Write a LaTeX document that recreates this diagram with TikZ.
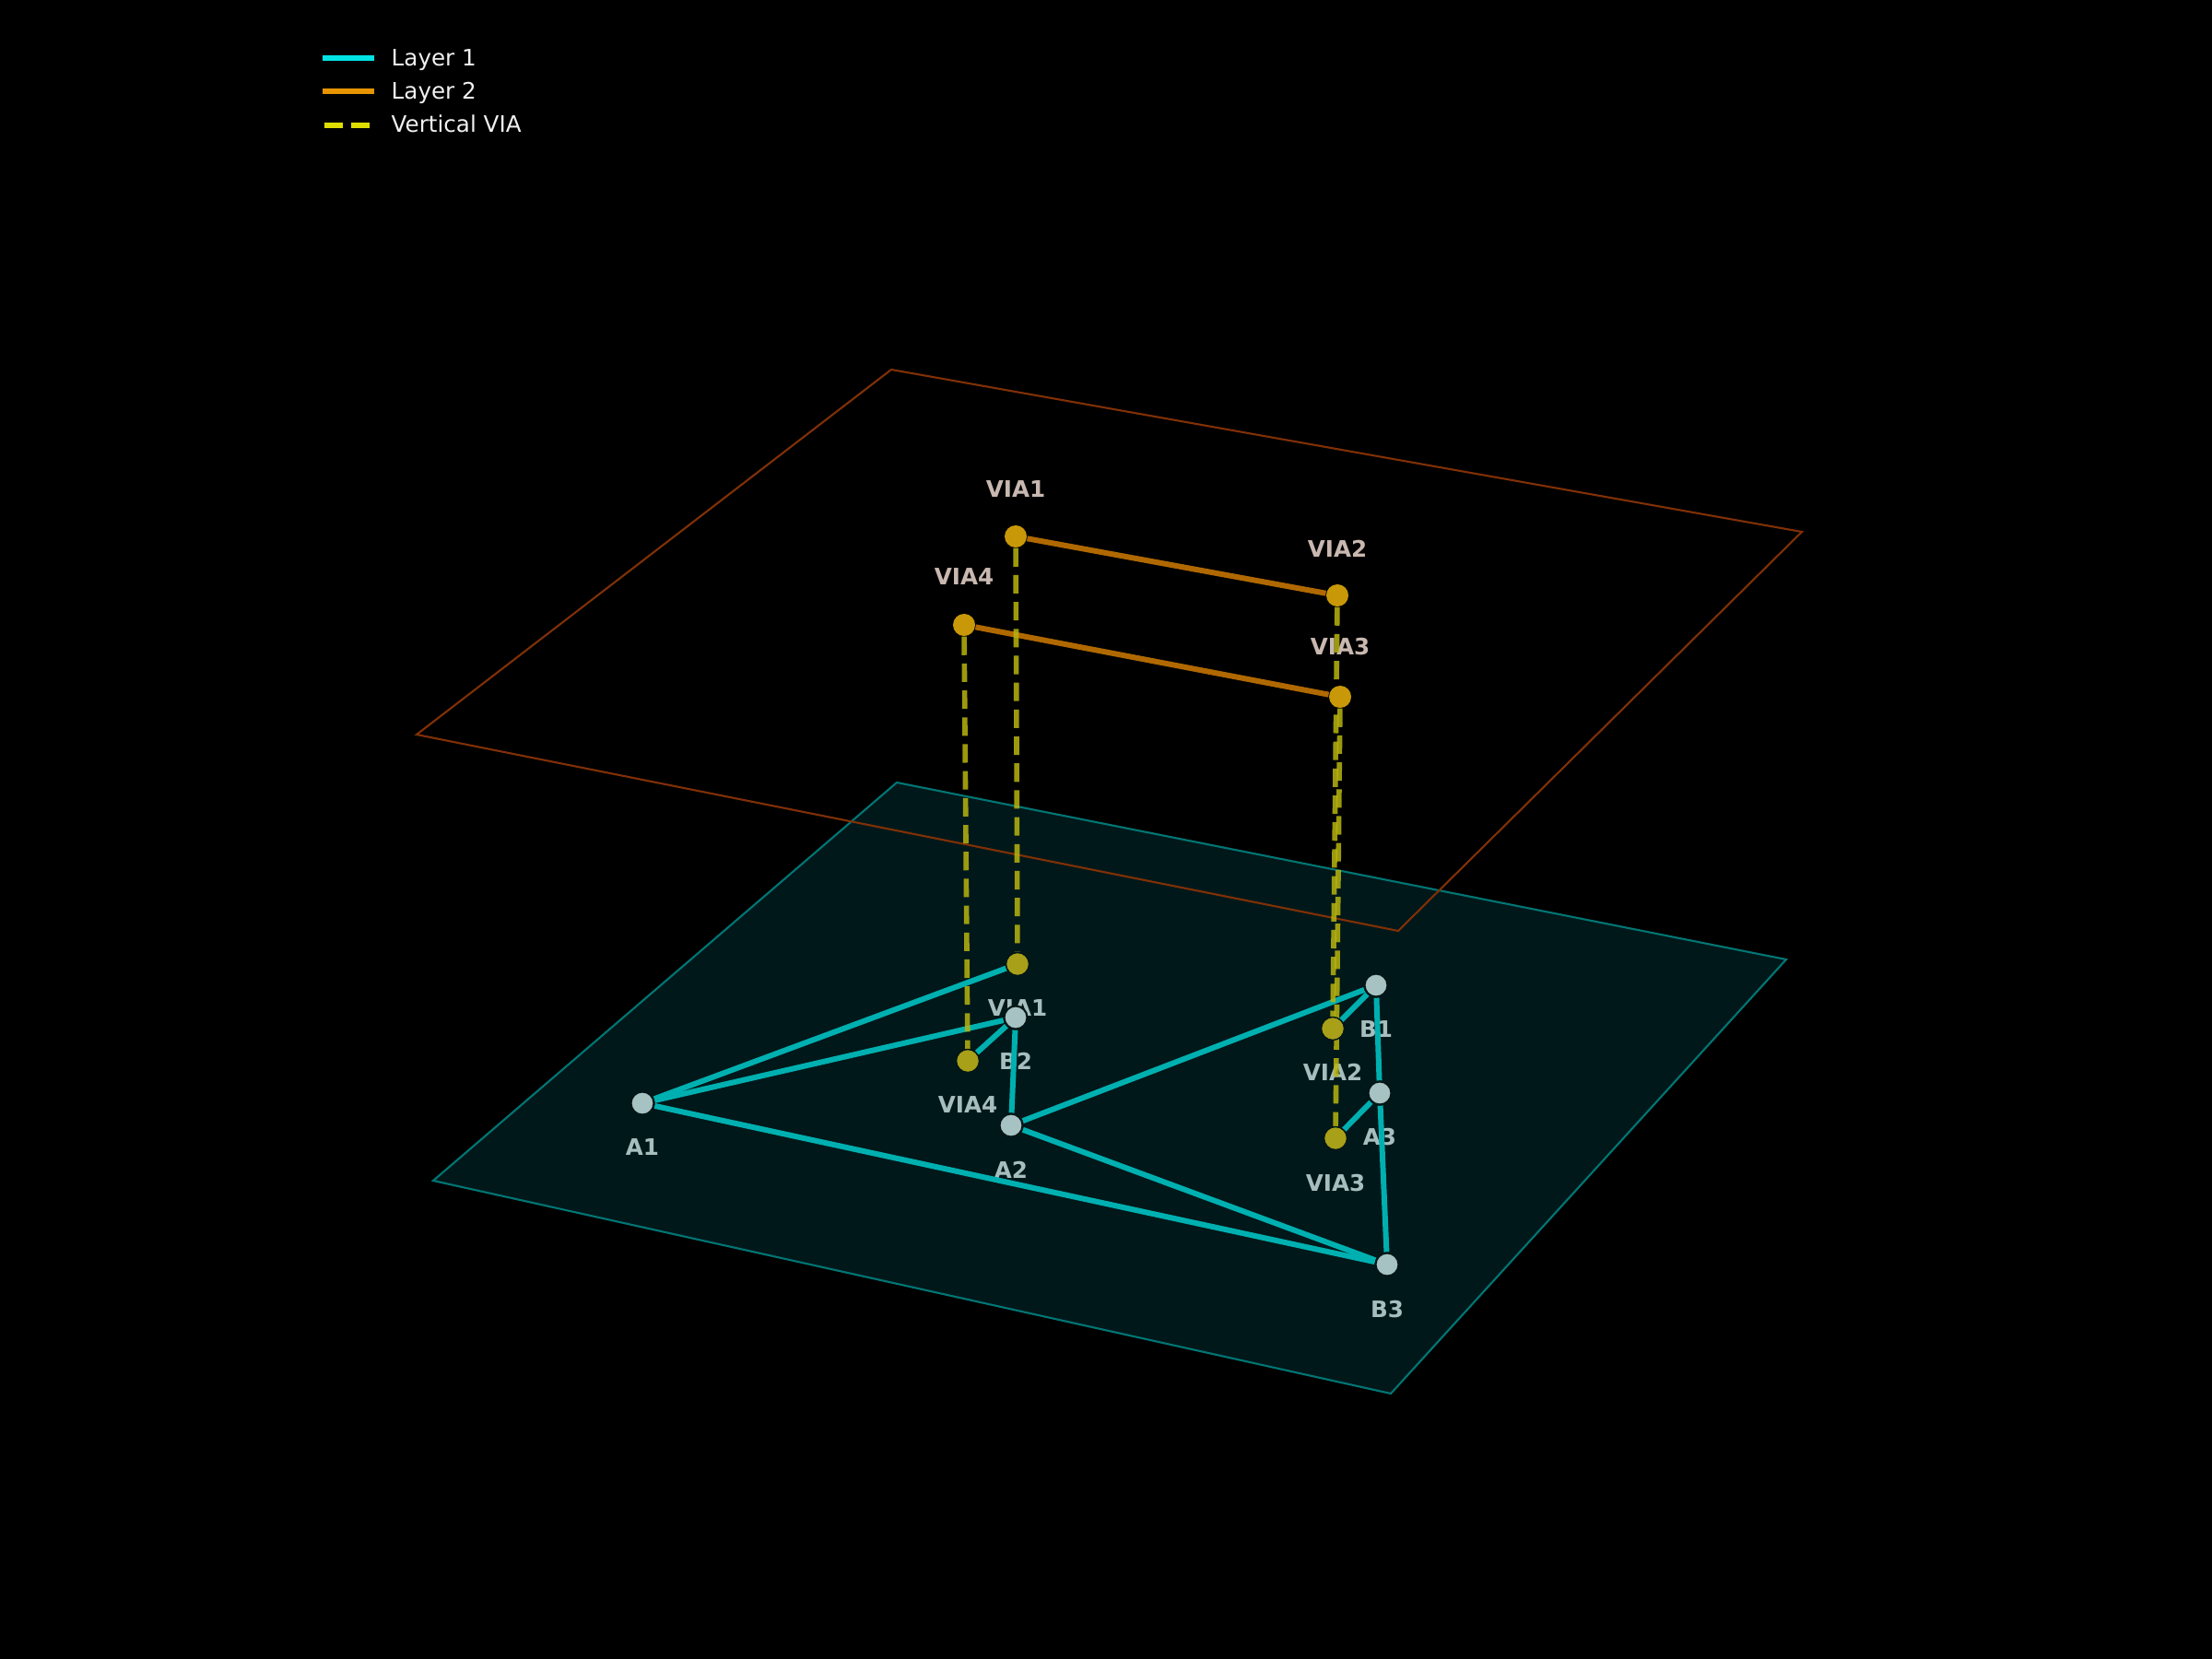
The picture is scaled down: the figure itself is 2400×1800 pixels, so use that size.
\documentclass[tikz,border=0pt]{standalone}
\usepackage{fontspec}
\setmainfont{DejaVu Sans}
\usetikzlibrary{backgrounds}
\definecolor{PlaneOneFill}{RGB}{1,24,26}
\definecolor{PlaneOneEdge}{RGB}{0,118,116}
\definecolor{PlaneTwoEdge}{RGB}{128,48,6}
\definecolor{TraceOne}{RGB}{0,176,176}
\definecolor{TraceTwo}{RGB}{176,104,0}
\definecolor{ViaLine}{RGB}{184,180,16}
\definecolor{PadColor}{RGB}{166,194,194}
\definecolor{PadEdge}{RGB}{4,22,22}
\definecolor{ViaLowColor}{RGB}{168,160,24}
\definecolor{ViaHighColor}{RGB}{200,152,8}
\definecolor{LowText}{RGB}{166,190,190}
\definecolor{HighText}{RGB}{200,184,176}
\definecolor{LegendCyan}{RGB}{0,228,228}
\definecolor{LegendOrange}{RGB}{230,148,0}
\definecolor{LegendYellow}{RGB}{222,222,0}
\tikzstyle{padnode} = [circle, fill=PadColor, draw=PadEdge, line width=0.6pt, minimum size=0.25cm, inner sep=0pt]
\tikzstyle{vialow} = [circle, fill=ViaLowColor, draw=PadEdge, line width=0.4pt, minimum size=0.25cm, inner sep=0pt]
\tikzstyle{viahigh} = [circle, fill=ViaHighColor, minimum size=0.24cm, inner sep=0pt]
\tikzstyle{trace1} = [line width=1.7pt, TraceOne]
\tikzstyle{trace2} = [line width=1.7pt, TraceTwo]
\tikzstyle{vialine} = [line width=1.6pt, ViaLine, opacity=0.85, dash pattern=on 5.7pt off 2.6pt]
\tikzstyle{lowlabel} = [font=\bfseries\fontsize{7}{8}\selectfont, text=LowText]
\tikzstyle{highlabel} = [font=\bfseries\fontsize{7}{8}\selectfont, text=HighText]
\tikzstyle{legtext} = [anchor=base west, inner sep=0pt, font=\fontsize{7}{8}\selectfont, text=white!94!black]

\begin{document}
\begin{tikzpicture}[x=0.01cm, y=-0.01cm]
        % Layer 1 pads
        \node[padnode] (A1) at (697,1197) {};
        \node[padnode] (A2) at (1097,1221) {};
        \node[padnode] (A3) at (1497,1186) {};
        \node[padnode] (B1) at (1493,1069) {};
        \node[padnode] (B2) at (1102,1104) {};
        \node[padnode] (B3) at (1505,1372) {};
        \node[vialow] (via1lo) at (1104,1046) {};
        \node[vialow] (via2lo) at (1446,1116) {};
        \node[vialow] (via3lo) at (1449,1235) {};
        \node[vialow] (via4lo) at (1050,1151) {};

        % Layer 2 vias
        \node[viahigh] (via1hi) at (1102,582) {};
        \node[viahigh] (via2hi) at (1451,646) {};
        \node[viahigh] (via3hi) at (1454,756) {};
        \node[viahigh] (via4hi) at (1046,678) {};

        \begin{scope}[on background layer]
        \fill[black] (0,0) rectangle (2400,1800);

        % Planes
        \fill[PlaneOneFill] (973,849) -- (1938,1041) -- (1509,1512) -- (470,1281) -- cycle;
        \draw[PlaneOneEdge, line width=0.6pt] (973,849) -- (1938,1041) -- (1509,1512) -- (470,1281) -- cycle;
        \draw[PlaneTwoEdge, line width=0.6pt] (967,401) -- (1955,577) -- (1517,1010) -- (452,797) -- cycle;

        % Labels
        \node[lowlabel] (tA1) at ([yshift=-4.7mm]A1) {A1};
        \node[lowlabel] (tA2) at ([yshift=-4.8mm]A2) {A2};
        \node[lowlabel] (tA3) at ([yshift=-4.7mm]A3) {A3};
        \node[lowlabel] (tB1) at ([yshift=-4.7mm]B1) {B1};
        \node[lowlabel] (tB2) at ([yshift=-4.7mm]B2) {B2};
        \node[lowlabel] (tB3) at ([yshift=-4.8mm]B3) {B3};
        \node[lowlabel] (tvia1lo) at ([yshift=-4.7mm]via1lo) {VIA1};
        \node[lowlabel] (tvia2lo) at ([yshift=-4.7mm]via2lo) {VIA2};
        \node[lowlabel] (tvia3lo) at ([yshift=-4.8mm]via3lo) {VIA3};
        \node[lowlabel] (tvia4lo) at ([yshift=-4.7mm]via4lo) {VIA4};
        \node[highlabel] (tvia1hi) at ([yshift=5.1mm]via1hi) {VIA1};
        \node[highlabel] (tvia2hi) at ([yshift=5.1mm]via2hi) {VIA2};
        \node[highlabel] (tvia3hi) at ([yshift=5.4mm]via3hi) {VIA3};
        \node[highlabel] (tvia4hi) at ([yshift=5.2mm]via4hi) {VIA4};

        % Layer 1 traces
        \draw[trace1] (A1) -- (via1lo);
        \draw[trace1] (A1) -- (B2);
        \draw[trace1] (A1) -- (B3);
        \draw[trace1] (B2) -- (A2);
        \draw[trace1] (B2) -- (via4lo);
        \draw[trace1] (A2) -- (B1);
        \draw[trace1] (A2) -- (B3);
        \draw[trace1] (B1) -- (via2lo);
        \draw[trace1] (B1) -- (A3);
        \draw[trace1] (A3) -- (via3lo);
        \draw[trace1] (A3) -- (B3);

        % Layer 2 traces
        \draw[trace2] (via1hi) -- (via2hi);
        \draw[trace2] (via4hi) -- (via3hi);

        % Vertical vias
        \draw[vialine] (via1hi) -- (via1lo);
        \draw[vialine] (via2hi) -- (via2lo);
        \draw[vialine] (via3hi) -- (via3lo);
        \draw[vialine] (via4hi) -- (via4lo);
        \end{scope}

        % Legend
        \draw[LegendCyan, line width=1.9pt] (350,63) -- (406,63);
        \node[legtext] (legA) at (424,72) {Layer 1};
        \draw[LegendOrange, line width=1.9pt] (350,99) -- (406,99);
        \node[legtext] (legB) at (424,108) {Layer 2};
        \draw[LegendYellow, line width=1.9pt, dash pattern=on 5.7pt off 2.6pt] (352,136) -- (406,136);
        \node[legtext] (legC) at (424,144) {Vertical VIA};

      \end{tikzpicture}
\end{document}
